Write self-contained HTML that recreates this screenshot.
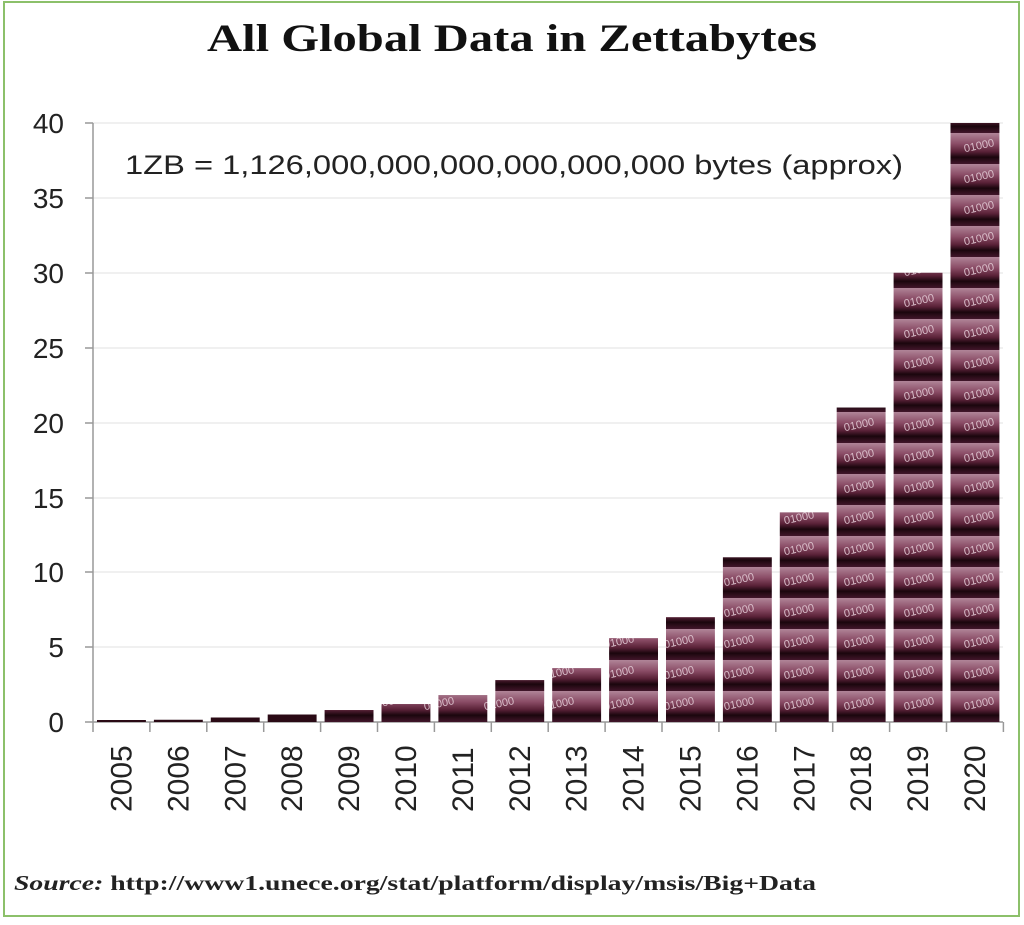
<!DOCTYPE html>
<html><head><style>
html,body{margin:0;padding:0;background:#fff;}
</style></head><body>
<svg width="1024" height="920" xmlns="http://www.w3.org/2000/svg">
<defs>
<linearGradient id="g" x1="0" y1="0" x2="0" y2="1">
<stop offset="0" stop-color="#b08598"/>
<stop offset="0.35" stop-color="#8a4c66"/>
<stop offset="0.6" stop-color="#5a2238"/>
<stop offset="0.78" stop-color="#1a060d"/>
<stop offset="1" stop-color="#42162a"/>
</linearGradient>
<pattern id="p" x="0" y="722" width="60" height="31" patternUnits="userSpaceOnUse">
<rect width="60" height="31" fill="url(#g)"/>
<text x="4" y="16" font-family="Liberation Sans" font-size="11" fill="#d8bcc8" transform="rotate(-12 20 14)">01000</text>
</pattern>
</defs>
<rect x="4" y="2" width="1015" height="914" fill="none" stroke="#8cc06a" stroke-width="2"/>
<text x="512" y="51" text-anchor="middle" font-family="Liberation Serif" font-weight="bold" font-size="39" fill="#111" textLength="610" lengthAdjust="spacingAndGlyphs">All Global Data in Zettabytes</text>
<g stroke="#e2e2e2" stroke-width="1">
<line x1="93" y1="123" x2="1003" y2="123"/><line x1="93" y1="198" x2="1003" y2="198"/>
<line x1="93" y1="273" x2="1003" y2="273"/><line x1="93" y1="348" x2="1003" y2="348"/>
<line x1="93" y1="423" x2="1003" y2="423"/><line x1="93" y1="498" x2="1003" y2="498"/>
<line x1="93" y1="572" x2="1003" y2="572"/><line x1="93" y1="647" x2="1003" y2="647"/>
</g>
<g stroke="#999" stroke-width="1.5">
<line x1="93" y1="123" x2="93" y2="732"/><line x1="85" y1="722" x2="1003" y2="722"/>
<line x1="85" y1="123" x2="93" y2="123"/><line x1="85" y1="198" x2="93" y2="198"/><line x1="85" y1="273" x2="93" y2="273"/><line x1="85" y1="348" x2="93" y2="348"/><line x1="85" y1="423" x2="93" y2="423"/><line x1="85" y1="498" x2="93" y2="498"/><line x1="85" y1="572" x2="93" y2="572"/><line x1="85" y1="647" x2="93" y2="647"/>
</g>
<g font-family="Liberation Sans" font-size="28" fill="#222" text-anchor="end">
<text x="64" y="133">40</text><text x="64" y="208">35</text><text x="64" y="283">30</text><text x="64" y="358">25</text><text x="64" y="433">20</text><text x="64" y="508">15</text><text x="64" y="582">10</text><text x="64" y="657">5</text><text x="64" y="732">0</text>
</g>
<text x="125" y="174" font-family="Liberation Sans" font-size="27" fill="#222" textLength="778" lengthAdjust="spacingAndGlyphs">1ZB = 1,126,000,000,000,000,000,000  bytes (approx)</text>
<g id="bars"></g>
<g id="ticks" stroke="#999" stroke-width="1.5"></g>
<g id="labels" font-family="Liberation Sans" font-size="30" fill="#222"></g>
<text x="14" y="890" font-family="Liberation Serif" font-weight="bold" font-size="21" fill="#222" textLength="802" lengthAdjust="spacingAndGlyphs"><tspan font-style="italic">Source:</tspan>  http://www1.unece.org/stat/platform/display/msis/Big+Data</text>
<script>
var v=[0.1,0.15,0.3,0.5,0.8,1.2,1.8,2.8,3.6,5.6,7,11,14,21,30,40];
var ns="http://www.w3.org/2000/svg",b=document.getElementById('bars'),t=document.getElementById('ticks'),l=document.getElementById('labels');
var w=56.9;
for(var i=0;i<16;i++){
 var x=93+i*w,h=Math.max(v[i]*14.975,2);
 var r=document.createElementNS(ns,'rect');
 r.setAttribute('x',x+4);r.setAttribute('y',722-h);r.setAttribute('width',w-8);r.setAttribute('height',h);
 r.setAttribute('fill',v[i]<0.6?'#2a0a15':'url(#p)');b.appendChild(r);
 var ln=document.createElementNS(ns,'line');ln.setAttribute('x1',x+w);ln.setAttribute('x2',x+w);ln.setAttribute('y1',722);ln.setAttribute('y2',732);t.appendChild(ln);
 var tx=document.createElementNS(ns,'text');var cx=x+w/2+10,cy=812;
 tx.setAttribute('x',cx);tx.setAttribute('y',cy);tx.setAttribute('transform','rotate(-90 '+cx+' '+cy+')');tx.textContent=2005+i;l.appendChild(tx);
}
</script>
</svg>
</body></html>
